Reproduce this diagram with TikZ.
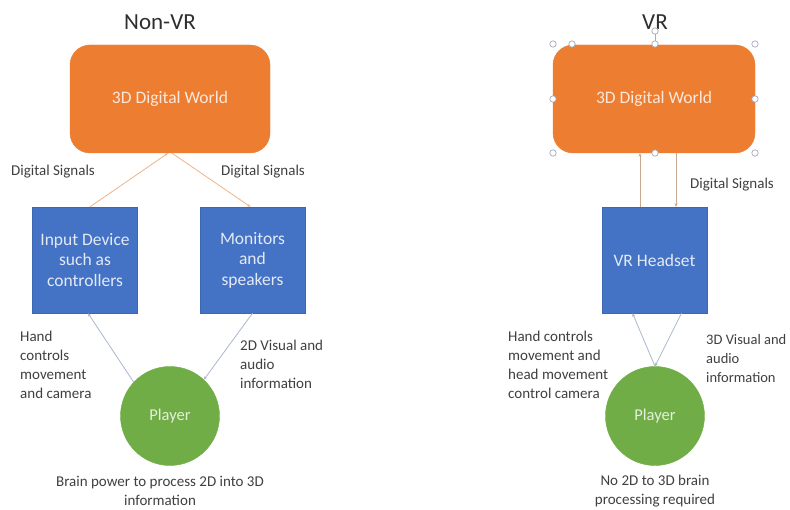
\documentclass[tikz,border=0pt]{standalone}
\usepackage{fontspec}
\setmainfont{Carlito}
\usetikzlibrary{arrows.meta}
\definecolor{worldorange}{HTML}{ED7D31}
\definecolor{boxblue}{HTML}{4472C4}
\definecolor{playergreen}{HTML}{70AD47}
\definecolor{labelgray}{HTML}{404040}
\definecolor{titlegray}{HTML}{2E2E2E}
\definecolor{sigline}{HTML}{EDB58C}
\definecolor{vrsigline}{HTML}{C8A88E}
\definecolor{infoline}{HTML}{A9B7CF}
\definecolor{handlegray}{HTML}{A4ACBA}
\tikzset{
  x=1pt, y=-1pt,
  world/.style={draw=worldorange, fill=worldorange, rounded corners=20pt,
    minimum width=200pt, minimum height=108pt, inner sep=0pt,
    text=white!82!worldorange, font=\fontsize{17.5}{21}\selectfont},
  devbox/.style={draw=boxblue!90!black, fill=boxblue, minimum width=105pt,
    minimum height=106pt, inner sep=0pt, align=center,
    text=white!85!boxblue, font=\fontsize{17.5}{20.5}\selectfont},
  player/.style={circle, draw=playergreen, fill=playergreen, minimum size=99pt,
    inner sep=0pt, text=white!82!playergreen, font=\fontsize{16.5}{20}\selectfont},
  title/.style={text=titlegray, font=\fontsize{23}{26}\selectfont, inner sep=0pt},
  lbl/.style={text=labelgray, font=\fontsize{15}{19}\selectfont, inner sep=0pt},
  lbll/.style={lbl, align=left, anchor=north west},
  lblc/.style={lbl, align=center, anchor=north},
  tip/.style={-{Stealth[length=3.5pt,width=3pt]}, line width=0.8pt},
  sig/.style={tip, draw=sigline},
  vrsig/.style={tip, draw=vrsigline},
  info/.style={tip, draw=infoline},
  handle/.style={draw=handlegray, fill=white, line width=0.7pt},
}
\begin{document}
\begin{tikzpicture}
\useasboundingbox (0,0) rectangle (790,510);
\fill[white] (0,0) rectangle (790,510);

% ---------- Non-VR ----------
\node[title] (t1) at (160,22) {Non-VR};
\node[world] (w1) at (170,99) {3D Digital World};
\node[devbox] (in1) at (85,260) {Input Device\\such as\\controllers};
\node[devbox] (mon1) at (252.5,260) {Monitors\\and\\speakers};
\node[player] (p1) at (170,416) {Player};

\draw[sig] ([xshift=5pt]in1.north) -- ([xshift=-2pt]w1.south);
\draw[sig] ([xshift=2pt]w1.south) -- ([xshift=-2pt]mon1.north);
\draw[info] (p1.137) -- ([xshift=3pt]in1.south);
\draw[info] (mon1.south) -- (p1.47);

\node[lbl] (ds1) at (53,172) {Digital Signals};
\node[lbl] (ds2) at (263,172) {Digital Signals};
\node[lbll] (hc1) at (20,331) {Hand\\controls\\movement\\and camera};
\node[lbll] (vi1) at (240,340) {2D Visual and\\audio\\information};
\node[lblc] (bp1) at (160,476) {Brain power to process 2D into 3D\\information};

% ---------- VR ----------
\node[world, minimum width=202pt] (w2) at (654,99) {3D Digital World};
\node[devbox] (hs2) at (654.5,260) {VR Headset};
\node[player] (p2) at (655,416) {Player};

\draw[vrsig] ([xshift=-14.5pt]hs2.north) -- ([xshift=-14.5pt]hs2.north |- w2.south);
\draw[vrsig] ([xshift=21.5pt]hs2.north |- w2.south) -- ([xshift=21.5pt]hs2.north);
\draw[info] (p2.north) -- ([xshift=-22pt]hs2.south);
\draw[info] ([xshift=27pt]hs2.south) -- (p2.north);

\node[lbl] (ds3) at (732,185) {Digital Signals};
\node[lbll] (hc2) at (508,331) {Hand controls\\movement and\\head movement\\control camera};
\node[lbll, font=\fontsize{14.5}{19}\selectfont] (vi2) at (706,334) {3D Visual and\\audio\\information};
\node[lblc] (bp2) at (655,475) {No 2D to 3D brain\\processing required};

% selection handles of the VR world shape
\draw[handlegray, line width=0.7pt] (655,33) -- (655,42);
\node[title] (t2) at (655,22) {VR};
\foreach \hx/\hy in {553/44, 655/44, 755/44, 553/99, 755/99, 553/153, 655/153, 755/153, 572/44, 655/31}
  \draw[handle] (\hx,\hy) circle (3.2pt);
\end{tikzpicture}
\end{document}
